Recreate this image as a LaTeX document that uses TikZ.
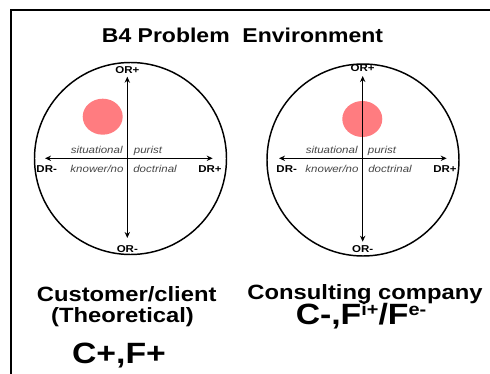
\documentclass[tikz,border=0pt]{standalone}
\usepackage{fontspec}
\setmainfont{Liberation Sans}[FakeStretch=1.15]
\usetikzlibrary{arrows.meta, shapes.geometric}

\definecolor{dotred}{RGB}{255,124,128}
\definecolor{quadgray}{RGB}{70,70,70}

\newcommand{\supx}[1]{\raisebox{0.62ex}{\fontsize{13}{13}\selectfont #1}}

\begin{document}
\begin{tikzpicture}[
    x=0.75pt, y=-0.75pt,
    ring/.style={
        draw, circle, line width=1.1pt,
        minimum size=144pt, inner sep=0pt
    },
    dot/.style={
        ellipse, fill=dotred,
        minimum width=30pt, minimum height=27pt, inner sep=0pt
    },
    axis/.style={
        {Stealth[length=4.5pt,width=4pt]}-{Stealth[length=4.5pt,width=4pt]},
        line width=1.1pt
    },
    axlabel/.style={
        font=\fontsize{7.5}{9}\selectfont\bfseries, inner sep=0pt, anchor=base
    },
    quad/.style={
        font=\fontsize{7.5}{9}\selectfont\itshape, text=quadgray,
        inner sep=0pt, anchor=base
    },
    caption/.style={
        font=\fontsize{15.5}{18}\selectfont\bfseries, inner sep=0pt, anchor=base
    },
    code/.style={
        font=\fontsize{22}{26}\selectfont\bfseries, inner sep=0pt, anchor=base
    }
]
\useasboundingbox (0,0) rectangle (490,374);

% --- frame and title ---
\draw[line width=1.5pt] (11,374) -- (11,10) -- (490,10);
\node[caption, font=\fontsize{15}{18}\selectfont\bfseries] (title) at (242.5,42.7) {B4 Problem\ \ Environment};

% --- left diagram: customer/client ---
\node[ring] (ringL) at (130.5,158.5) {};
\node[dot] (dotL) at (102.7,116.7) {};
\coordinate (lW) at (45,158.3);
\coordinate (lE) at (212.7,158.3);
\coordinate (lN) at (127.3,76.7);
\coordinate (lS) at (127.3,238);
\draw[axis] (lW) -- (lE);
\draw[axis] (lN) -- (lS);
\node[axlabel] (lORp) at (127.3,73.3) {OR+};
\node[axlabel] (lORm) at (127.3,252.5) {OR-};
\node[axlabel] (lDRm) at (46.7,172.5) {DR-};
\node[axlabel] (lDRp) at (210,172.5) {DR+};
\node[quad] (lsit) at (96.7,153.3) {situational};
\node[quad] (lpur) at (148,153.3) {purist};
\node[quad] (lkno) at (97,172.5) {knower/no};
\node[quad] (ldoc) at (155,172.5) {doctrinal};

% --- right diagram: consulting company ---
\node[ring] (ringR) at (363,160) {};
\node[dot] (dotR) at (362.3,119) {};
\coordinate (rW) at (279,158.3);
\coordinate (rE) at (446.7,158.3);
\coordinate (rN) at (362.7,76);
\coordinate (rS) at (362.7,241.7);
\draw[axis] (rW) -- (rE);
\draw[axis] (rN) -- (rS);
\node[axlabel] (rORp) at (362.7,71.7) {OR+};
\node[axlabel] (rORm) at (362.7,252.3) {OR-};
\node[axlabel] (rDRm) at (286.7,172.5) {DR-};
\node[axlabel] (rDRp) at (445,172.5) {DR+};
\node[quad] (rsit) at (331.7,153.3) {situational};
\node[quad] (rpur) at (382,153.3) {purist};
\node[quad] (rkno) at (332,172.5) {knower/no};
\node[quad] (rdoc) at (390,172.5) {doctrinal};

% --- captions ---
\node[caption] (custL) at (126.7,301.7) {Customer/client};
\node[caption] (theoL) at (122.5,322.7) {(Theoretical)};
\node[code] (codeL) at (119,364) {C+,F+};
\node[caption] (consR) at (365,300) {Consulting company};
\node[code] (codeR) at (361,325) {C-,F\supx{i+}/F\supx{e-}};

\end{tikzpicture}
\end{document}
